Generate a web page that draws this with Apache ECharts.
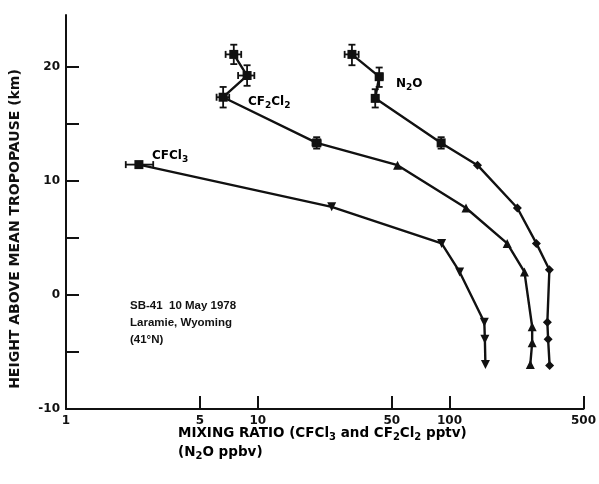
<!DOCTYPE html>
<html>
<head>
<meta charset="utf-8">
<script src="https://cdn.jsdelivr.net/npm/echarts@6/dist/echarts.min.js"></script>
<style>
  html, body { margin: 0; padding: 0; background: #fff; }
  #chart { width: 599px; height: 484px; }
</style>
</head>
<body>
<div id="chart"></div>
<script>
// Axis tick positions
const heightLabels = [-10, 0, 10, 20];
const heightTicks = [-10, -5, 0, 5, 10, 15, 20];
const ratioLabels = [1, 5, 10, 50, 100, 500];
const ratioTicks = [5, 10, 50, 100, 500];

// Profiles: [mixing ratio, height above mean tropopause (km)]
const cfcl3 = [[2.4, 11.4], [24.3, 7.7], [91, 4.5], [113, 2.0], [152, -2.4], [153, -3.9], [154, -6.1]];
const cf2cl2 = [[7.5, 21.05], [8.8, 19.2], [6.6, 17.3], [20.3, 13.3], [53.6, 11.35], [122, 7.6], [200, 4.5], [246, 2.0], [270, -2.8], [270, -4.2], [264, -6.1]];
const n2o = [[31, 21.05], [43, 19.1], [41, 17.2], [90.5, 13.3], [140, 11.35], [226, 7.6], [284, 4.5], [332, 2.2], [324, -2.4], [327, -3.9], [333, -6.2]];

// Error bars: [x, y, xLow, xHigh, yLow, yHigh]
const cfcl3Err = [[2.4, 11.4, 2.05, 2.85, 11.25, 11.55]];
const cf2cl2Err = [
  [7.5, 21.05, 6.8, 8.2, 20.2, 21.9],
  [8.8, 19.2, 7.9, 9.6, 18.3, 20.1],
  [6.6, 17.3, 6.1, 7.1, 16.4, 18.2],
  [20.3, 13.3, 19.3, 21.3, 12.8, 13.8]
];
const n2oErr = [
  [31, 21.05, 28.4, 33.6, 20.1, 21.9],
  [43, 19.1, 41.5, 44.8, 18.2, 19.9],
  [41, 17.2, 40, 42.5, 16.4, 18.0],
  [90.5, 13.3, 89, 92, 12.8, 13.8]
];

const FONT = 'DejaVu Sans';
const INK = '#111';

function renderErrorBar(params, api) {
  const x = api.value(0), y = api.value(1);
  const c = api.coord([x, y]);
  const xl = api.coord([api.value(2), y]);
  const xh = api.coord([api.value(3), y]);
  const yl = api.coord([x, api.value(4)]);
  const yh = api.coord([x, api.value(5)]);
  const cap = 3.5;
  const st = { stroke: INK, lineWidth: 1.8 };
  const seg = (x1, y1, x2, y2) => ({ type: 'line', shape: { x1, y1, x2, y2 }, style: st });
  return {
    type: 'group',
    children: [
      seg(xl[0], c[1], xh[0], c[1]),
      seg(xl[0], c[1] - cap, xl[0], c[1] + cap),
      seg(xh[0], c[1] - cap, xh[0], c[1] + cap),
      seg(c[0], yl[1], c[0], yh[1]),
      seg(c[0] - cap, yl[1], c[0] + cap, yl[1]),
      seg(c[0] - cap, yh[1], c[0] + cap, yh[1])
    ]
  };
}

function profileSeries(name, data, nErr, symbol, rotate) {
  return {
    name, type: 'line', data,
    symbol: (v, p) => (p.dataIndex < nErr ? 'rect' : symbol),
    symbolSize: 9,
    symbolRotate: rotate,
    lineStyle: { color: INK, width: 2.4 },
    itemStyle: { color: INK },
    animation: false, z: 3
  };
}

function errorSeries(data) {
  return {
    type: 'custom', data, renderItem: renderErrorBar,
    encode: { x: [0, 2, 3], y: [1, 4, 5] },
    animation: false, z: 4
  };
}

const txt = { fontFamily: FONT, fontWeight: 'bold', fontSize: 12, color: INK };
const sub = { fontFamily: FONT, fontWeight: 'bold', fontSize: 9, color: INK, padding: [7, 0, 0, 0] };
const titleTxt = { fontFamily: FONT, fontWeight: 'bold', fontSize: 13.5, color: INK, lineHeight: 19 };
const titleSub = { fontFamily: FONT, fontWeight: 'bold', fontSize: 10, color: INK, padding: [8, 0, 0, 0] };

const chart = echarts.init(document.getElementById('chart'));
chart.setOption({
  backgroundColor: '#fff',
  animation: false,
  grid: { left: 66, right: 15, top: 15, bottom: 75 },
  xAxis: {
    type: 'log', logBase: 10, min: 1, max: 500,
    axisLine: { onZero: false, lineStyle: { color: INK, width: 2 } },
    axisTick: { inside: true, length: 13, customValues: ratioTicks, lineStyle: { color: INK, width: 2 } },
    axisLabel: { customValues: ratioLabels, color: INK, fontFamily: FONT, fontWeight: 'bold', fontSize: 12, margin: 6 },
    splitLine: { show: false },
    minorTick: { show: false }
  },
  yAxis: {
    type: 'value', min: -10, max: 24.5,
    name: 'HEIGHT ABOVE MEAN TROPOPAUSE (km)',
    nameLocation: 'middle', nameGap: 44,
    nameTextStyle: { fontFamily: FONT, fontWeight: 'bold', fontSize: 14, color: INK, padding: [0, 34, 0, 0] },
    axisLine: { show: true, onZero: false, lineStyle: { color: INK, width: 2 } },
    axisTick: { show: true, inside: true, length: 13, customValues: heightTicks, lineStyle: { color: INK, width: 2 } },
    axisLabel: { customValues: heightLabels, color: INK, fontFamily: FONT, fontWeight: 'bold', fontSize: 12, margin: 6 },
    splitLine: { show: false }
  },
  series: [
    profileSeries('CFCl3', cfcl3, 1, 'triangle', 180),
    profileSeries('CF2Cl2', cf2cl2, 4, 'triangle', 0),
    profileSeries('N2O', n2o, 4, 'diamond', 0),
    errorSeries(cfcl3Err),
    errorSeries(cf2cl2Err),
    errorSeries(n2oErr)
  ],
  graphic: [
    { type: 'text', left: 152, top: 150, style: { text: '{t|CFCl}{s|3}', rich: { t: txt, s: sub } } },
    { type: 'text', left: 248, top: 96, style: { text: '{t|CF}{s|2}{t|Cl}{s|2}', rich: { t: txt, s: sub } } },
    { type: 'text', left: 396, top: 78, style: { text: '{t|N}{s|2}{t|O}', rich: { t: txt, s: sub } } },
    { type: 'text', left: 130, top: 297, style: { text: 'SB-41  10 May 1978\nLaramie, Wyoming\n(41°N)', font: 'bold 11.5px "Liberation Sans"', fill: INK, lineHeight: 17 } },
    { type: 'text', left: 178, top: 426, style: {
        text: '{t|MIXING RATIO (CFCl}{s|3}{t| and CF}{s|2}{t|Cl}{s|2}{t| pptv)}\n{t|(N}{s|2}{t|O ppbv)}',
        rich: { t: titleTxt, s: titleSub }
    } }
  ]
});
</script>
</body>
</html>
